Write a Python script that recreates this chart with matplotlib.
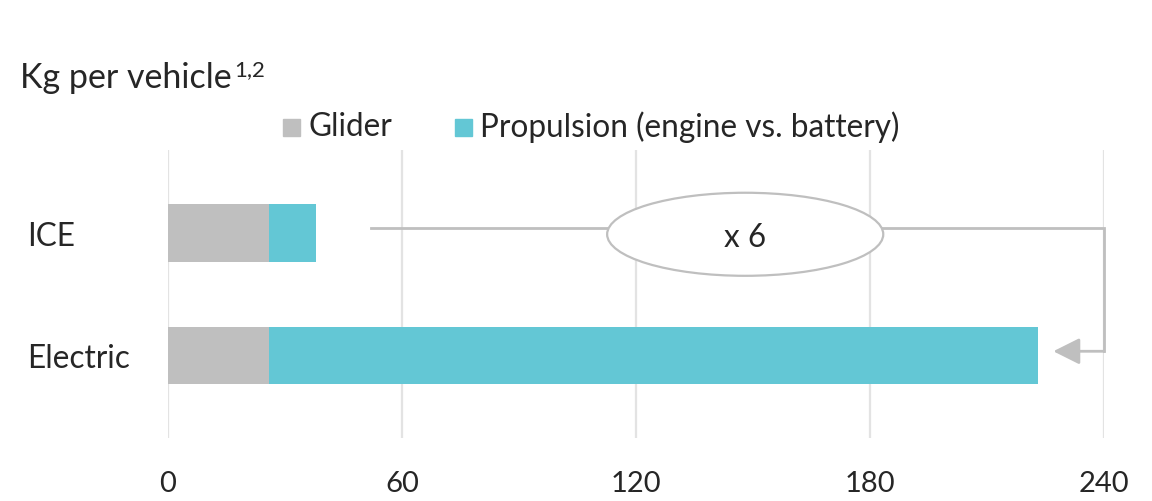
import matplotlib
matplotlib.use("Agg")
import matplotlib.pyplot as plt
from matplotlib.patches import Ellipse, FancyArrowPatch

plt.rcParams['font.family'] = ['Lato', 'DejaVu Sans']

# Weight per vehicle (kg)
categories = ["Electric", "ICE"]
glider = [26, 26]
propulsion = [197, 12]
series_labels = ["Glider", "Propulsion (engine vs. battery)"]
xticks = [0, 60, 120, 180, 240]

GREY = "#BFBFBF"
TEAL = "#63C7D5"
TEXT = "#262626"
GRID = "#E3E3E3"
FS = 22.7

fig = plt.figure(figsize=(11.52, 5.01), dpi=100)
W, H = 1152, 501
ax = fig.add_axes([168 / W, 63 / H, 936 / W, 288 / H])

ypos = list(range(len(categories)))
bar_h = 0.47
ax.barh(ypos, glider, height=bar_h, color=GREY, zorder=3)
ax.barh(ypos, propulsion, left=glider, height=bar_h, color=TEAL, zorder=3)

ax.set_xlim(xticks[0], xticks[-1])
ax.set_ylim(-0.673, 1.678)
ax.set_xticks(xticks)
ax.set_xticklabels([str(t) for t in xticks], fontsize=21, color=TEXT)
ax.tick_params(axis="x", length=0, pad=24)
ax.set_yticks([])
for s in ax.spines.values():
    s.set_visible(False)
ax.xaxis.grid(True, color=GRID, linewidth=1.6, zorder=0)
ax.set_axisbelow(True)

# Category labels at the left margin
for y, name in zip(ypos, categories):
    disp_y = ax.transData.transform((0, y - 0.03))[1]
    fig.text(27 / W, disp_y / H, name, fontsize=FS,
             color=TEXT, ha="left", va="center")

# Ratio connector from ICE bar to Electric bar
totals = [g + p for g, p in zip(glider, propulsion)]
ice_total, ev_total = totals[1], totals[0]
ratio = round(ev_total / ice_total)
y_top = ypos[1] + 0.04
y_bot = ypos[0] + 0.035
x_start = ice_total + 14
x_right = xticks[-1]
ax.plot([x_start, x_right, x_right], [y_top, y_top, y_bot],
        color=GREY, linewidth=2, zorder=4, solid_joinstyle="miter",
        clip_on=False)
ax.add_patch(FancyArrowPatch((x_right, y_bot), (ev_total + 4, y_bot),
                             arrowstyle="-|>,head_length=0.9,head_width=0.45",
                             mutation_scale=18, color=GREY, linewidth=2,
                             shrinkA=0, shrinkB=0, zorder=4, clip_on=False))
ell_cx = 148
ax.add_patch(Ellipse((ell_cx, 0.99), 70.8, 0.678, facecolor="white",
                     edgecolor=GREY, linewidth=1.6, zorder=5))
ax.text(ell_cx, 0.96, f"x {ratio}", fontsize=FS, color=TEXT,
        ha="center", va="center", zorder=6)

# Title with footnote markers
title = fig.text(20 / W, 1 - 88 / H, "Kg per vehicle", fontsize=24.5,
                 color=TEXT, ha="left", va="baseline")
fig.canvas.draw()
tb = title.get_window_extent()
fig.text(tb.x1 / W + 3 / W, 1 - 76 / H, "1,2", fontsize=16,
         color=TEXT, ha="left", va="baseline")

# Legend
leg_y = 1 - 127 / H
fig.patches.append(plt.Rectangle((283 / W, 1 - 136 / H), 17 / W, 17 / H,
                                 transform=fig.transFigure, color=GREY))
fig.text(308 / W, leg_y, series_labels[0], fontsize=FS, color=TEXT,
         ha="left", va="center")
fig.patches.append(plt.Rectangle((455 / W, 1 - 136 / H), 17 / W, 17 / H,
                                 transform=fig.transFigure, color=TEAL))
fig.text(480 / W, leg_y, series_labels[1], fontsize=FS, color=TEXT,
         ha="left", va="center")

fig.savefig("out.png", dpi=100, facecolor="white")
